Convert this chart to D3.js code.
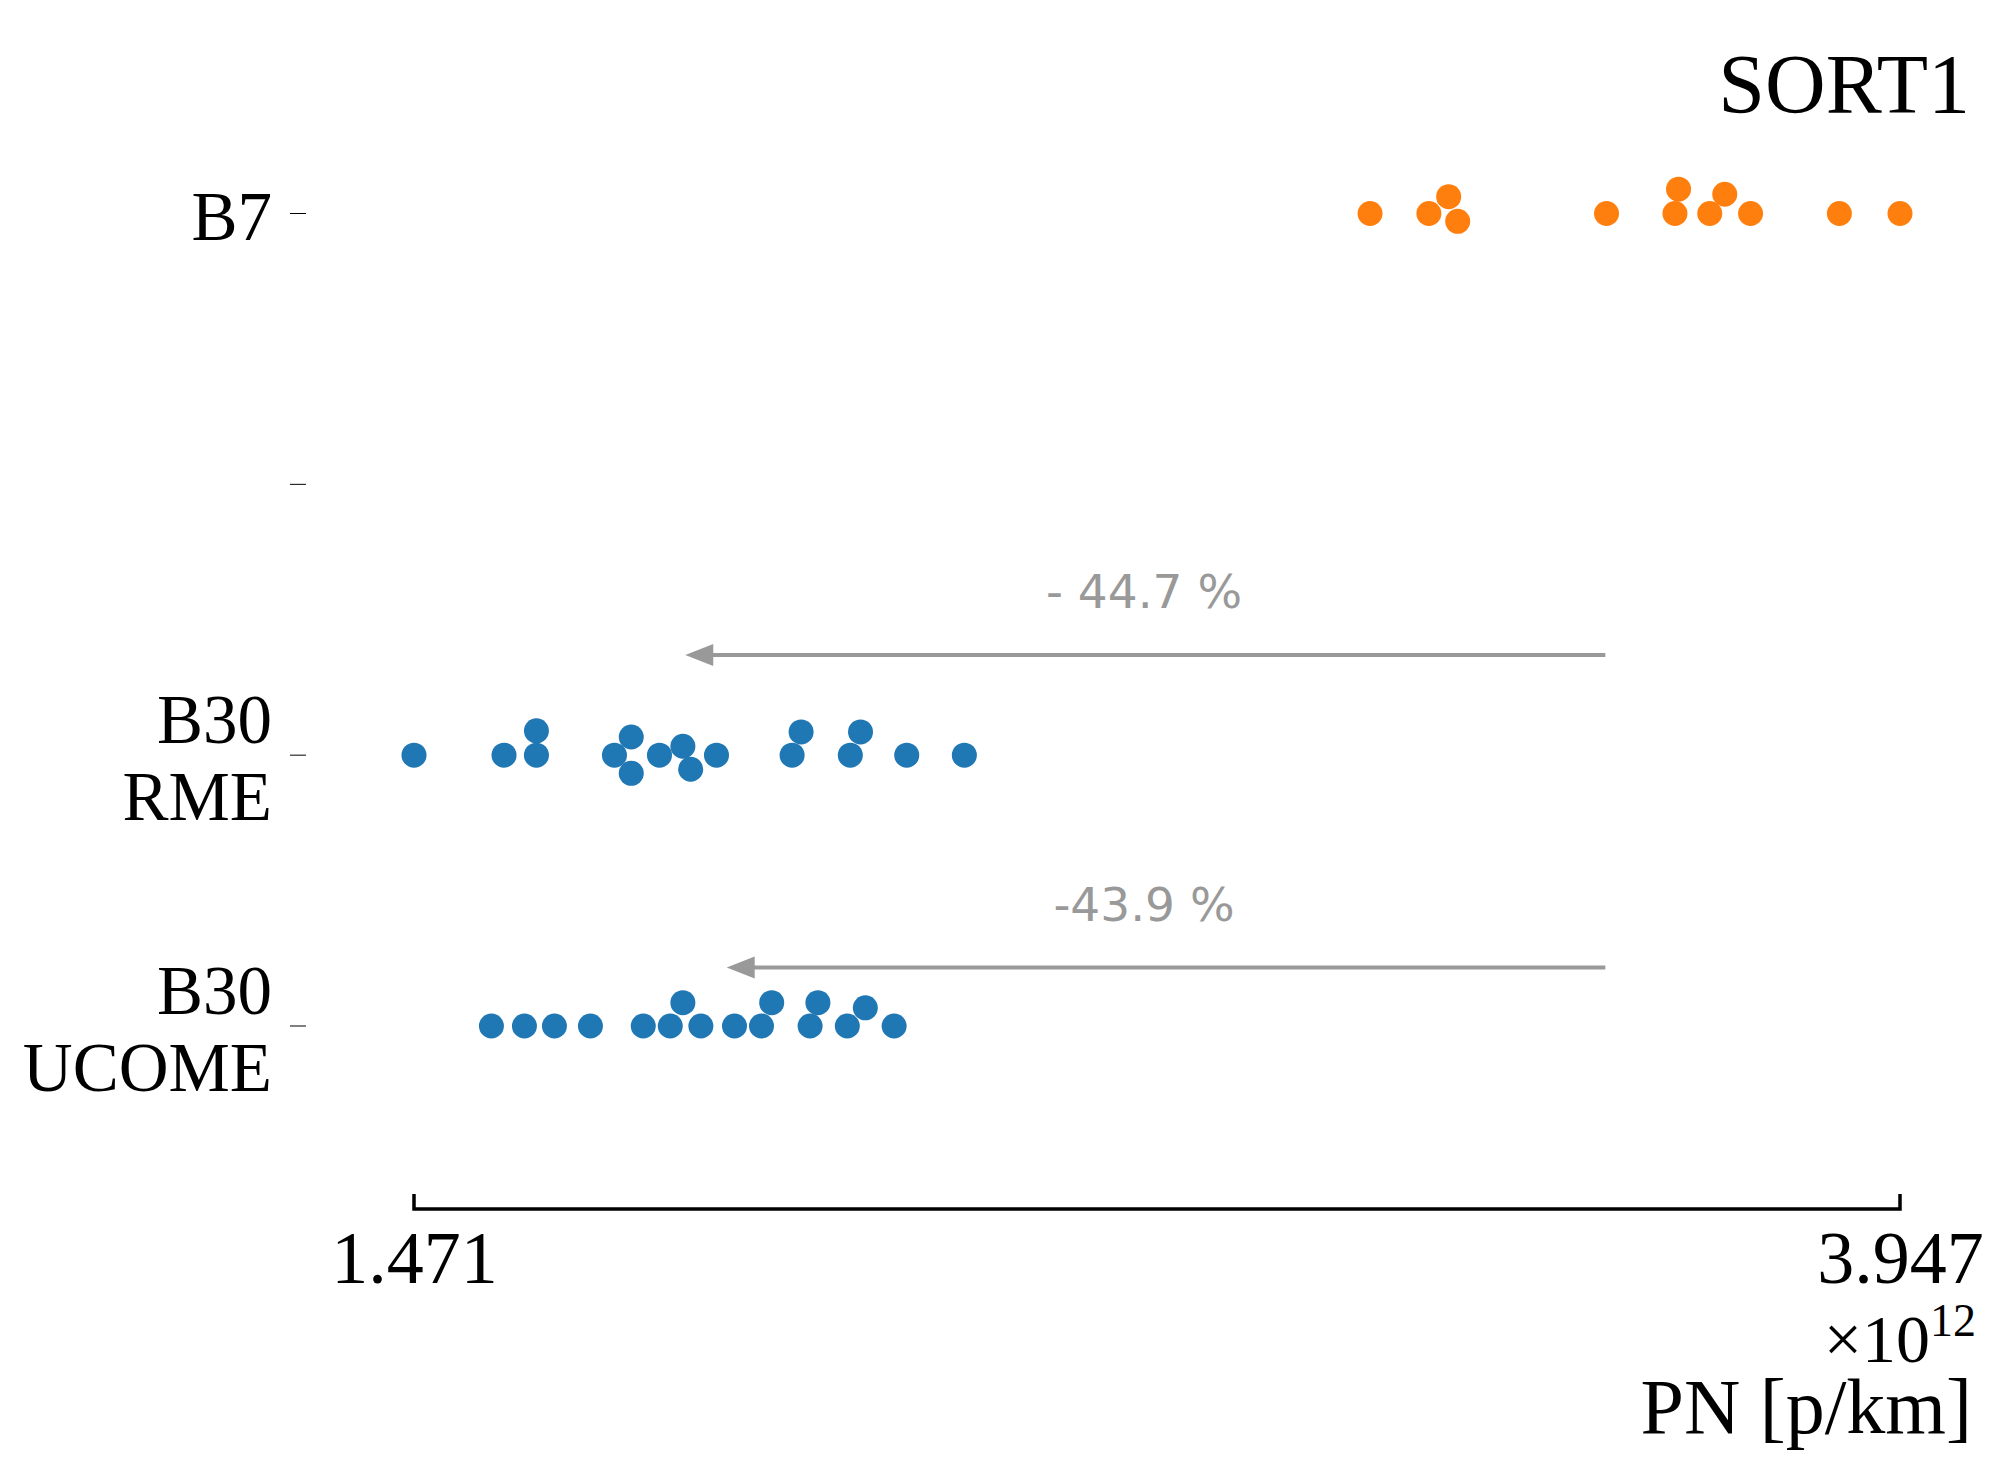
<!DOCTYPE html>
<html><head><meta charset="utf-8">
<script src="https://cdn.jsdelivr.net/npm/d3@7"></script>
<style>body{margin:0;background:#fff}</style>
</head><body>
<svg id="chart" width="2015" height="1472"></svg>
<script>
// values in units of 1e12 p/km, jitter in category units
var categories = ['B7', '', 'B30 RME', 'B30 UCOME'];
var b7Values = [3.064, 3.162, 3.195, 3.210, 3.458, 3.572, 3.578, 3.630, 3.655, 3.698, 3.846, 3.947];
var b7Jitter = [0, 0, -0.062, 0.029, 0, 0, -0.09, 0, -0.071, 0, 0, 0];
var rmeValues = [1.471, 1.621, 1.675, 1.675, 1.805, 1.833, 1.833, 1.880, 1.919, 1.932, 1.975, 2.101, 2.116, 2.198, 2.215, 2.292, 2.388];
var rmeJitter = [0, 0, -0.09, 0, 0, -0.067, 0.067, 0, -0.033, 0.052, 0, 0, -0.086, 0, -0.086, 0, 0];
var ucomeValues = [1.600, 1.655, 1.705, 1.765, 1.853, 1.898, 1.919, 1.949, 2.005, 2.050, 2.067, 2.131, 2.144, 2.193, 2.223, 2.271];
var ucomeJitter = [0, 0, 0, 0, 0, 0, -0.086, 0, 0, 0, -0.086, 0, -0.086, 0, -0.067, 0];
var arrows = [
  {from: 3.456, to: 1.923, row: 1.63, label: '- 44.7 %'},
  {from: 3.456, to: 1.992, row: 2.784, label: '-43.9 %'}
];
var tickValues = [1.471, 3.947];

var svg = d3.select('#chart');
var serif = '"Liberation Serif", "DejaVu Serif", serif';
var x = d3.scaleLinear().domain([1.471, 3.947]).range([414, 1900]);
var y = d3.scaleLinear().domain([0, 3]).range([213.5, 1026]);

// y ticks
svg.selectAll('.ytick').data(categories).enter().append('line')
  .attr('x1', 290).attr('x2', 306)
  .attr('y1', function(d, i) { return y(i); }).attr('y2', function(d, i) { return y(i); })
  .attr('stroke', '#000').attr('stroke-width', 1);

var labels = [['B7'], [], ['B30', 'RME'], ['B30', 'UCOME']];
labels.forEach(function(lines, i) {
  var t = svg.append('text').attr('text-anchor', 'end')
    .style('font-family', serif).style('font-size', '69px');
  if (lines.length === 1) {
    t.append('tspan').attr('x', 272).attr('y', y(i) + 26).text(lines[0]);
  } else {
    lines.forEach(function(l, k) {
      t.append('tspan').attr('x', 272).attr('y', y(i) - 12 + k * 77).text(l);
    });
  }
});

// x axis
var xAxis = d3.axisBottom(x).tickValues(tickValues).tickSize(0).tickFormat(d3.format('.3f'));
var gx = svg.append('g').attr('transform', 'translate(0,1209)').call(xAxis);
gx.select('.domain').attr('d', 'M' + x(1.471) + ',-15V0H' + x(3.947) + 'V-15')
  .attr('stroke-width', 3.5).attr('fill', 'none');
gx.selectAll('text').attr('dy', 0).attr('y', 74)
  .style('font-family', serif).style('font-size', '74px').attr('fill', '#000');

svg.append('text').attr('x', 1976).attr('y', 1362).attr('text-anchor', 'end')
  .style('font-family', serif).style('font-size', '68px')
  .html('×10<tspan dy="-26" font-size="46px">12</tspan>');
svg.append('text').attr('x', 1972).attr('y', 1433).attr('text-anchor', 'end')
  .style('font-family', serif).style('font-size', '78px').text('PN [p/km]');
svg.append('text').attr('x', 1970).attr('y', 113).attr('text-anchor', 'end')
  .style('font-family', serif).style('font-size', '84px').text('SORT1');

// points
function drawRow(vals, jit, row, color) {
  svg.append('g').selectAll('circle').data(vals).enter().append('circle')
    .attr('cx', function(d) { return x(d); })
    .attr('cy', function(d, i) { return y(row + jit[i]); })
    .attr('r', 12.5).attr('fill', color);
}
drawRow(b7Values, b7Jitter, 0, '#ff7f0e');
drawRow(rmeValues, rmeJitter, 2, '#1f77b4');
drawRow(ucomeValues, ucomeJitter, 3, '#1f77b4');

// arrows
arrows.forEach(function(a) {
  svg.append('line').attr('x1', x(a.from)).attr('x2', x(a.to) + 26)
    .attr('y1', y(a.row)).attr('y2', y(a.row))
    .attr('stroke', '#999').attr('stroke-width', 4);
  svg.append('path')
    .attr('d', 'M' + x(a.to) + ',' + y(a.row) + 'l28,-11v22z').attr('fill', '#999');
  svg.append('text').attr('x', 1144).attr('y', y(a.row) - 47).attr('text-anchor', 'middle')
    .style('font-family', '"DejaVu Sans", sans-serif').style('font-size', '47px')
    .attr('fill', '#999').text(a.label);
});
</script>
</body></html>
